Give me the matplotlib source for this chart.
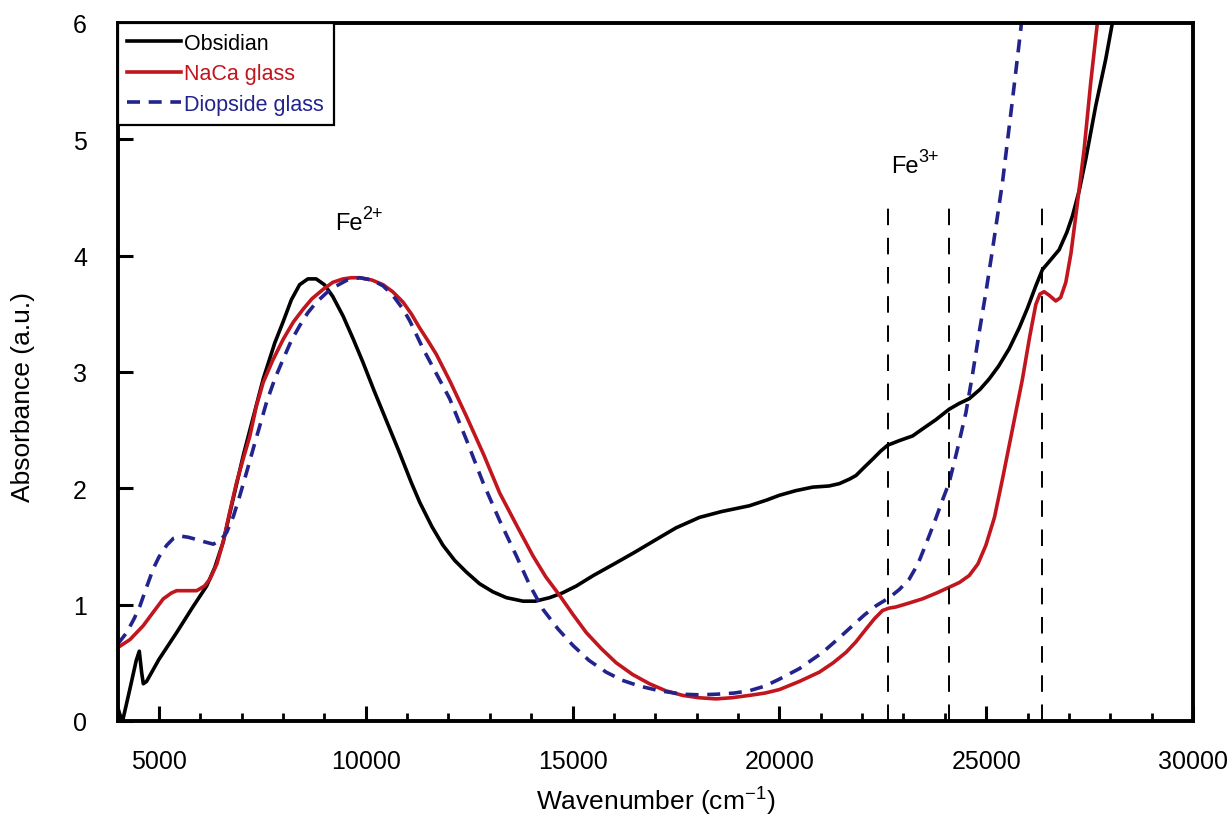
import matplotlib
matplotlib.use("Agg")
import matplotlib.pyplot as plt
from matplotlib.ticker import MultipleLocator

plt.rcParams['font.family'] = ['Liberation Sans', 'DejaVu Sans']
plt.rcParams['mathtext.default'] = 'regular'

# Obsidian spectrum
obs_x = [4000, 4060, 4120, 4300, 4450, 4524, 4580, 4621, 4700, 5000, 5427, 5800, 6152,
         6350, 6553, 6800, 7036, 7300, 7520, 7800, 8000, 8200, 8400, 8600, 8800, 9000,
         9200, 9452, 9700, 9935, 10200, 10500, 10800, 11100, 11304, 11600, 11867, 12150,
         12432, 12750, 13075, 13400, 13800, 14100, 14444, 14750, 15089, 15500, 16055,
         16500, 17022, 17500, 18068, 18600, 19275, 19700, 20000, 20400, 20804, 21200,
         21449, 21700, 21852, 22050, 22254, 22450, 22616, 22900, 23220, 23500, 23785,
         24106, 24350, 24589, 24850, 25072, 25300, 25556, 25800, 26000, 26200, 26360,
         26550, 26763, 26950, 27085, 27250, 27408, 27650, 27891, 28051, 28150]
obs_y = [0.12, 0.05, 0.0, 0.28, 0.52, 0.60, 0.42, 0.32, 0.34, 0.53, 0.76, 0.97, 1.16,
         1.32, 1.54, 1.92, 2.28, 2.64, 2.94, 3.25, 3.43, 3.62, 3.75, 3.80, 3.80, 3.75,
         3.65, 3.48, 3.28, 3.08, 2.84, 2.58, 2.32, 2.05, 1.88, 1.67, 1.51, 1.38,
         1.28, 1.18, 1.11, 1.06, 1.03, 1.03, 1.06, 1.10, 1.16, 1.25, 1.36,
         1.45, 1.56, 1.66, 1.75, 1.80, 1.85, 1.90, 1.94, 1.98, 2.01, 2.02,
         2.04, 2.08, 2.11, 2.18, 2.25, 2.32, 2.37, 2.41, 2.45, 2.52, 2.59,
         2.68, 2.73, 2.77, 2.85, 2.94, 3.05, 3.20, 3.38, 3.55, 3.74, 3.88,
         3.96, 4.05, 4.20, 4.34, 4.56, 4.83, 5.29, 5.69, 6.0, 6.2]

# NaCa glass
naca_x = [4000, 4300, 4621, 4850, 5104, 5300, 5427, 5700, 5910, 6100, 6232, 6400, 6553,
          6700, 6876, 7050, 7198, 7350, 7520, 7750, 8002, 8250, 8486, 8700, 8969, 9200,
          9452, 9650, 9855, 10150, 10418, 10650, 10901, 11100, 11300, 11500, 11708, 12050,
          12432, 12850, 13237, 13650, 14041, 14350, 14686, 15000, 15331, 15700, 16055,
          16450, 16860, 17250, 17665, 18050, 18470, 18850, 19275, 19650, 20000, 20483,
          20966, 21300, 21611, 21850, 22094, 22300, 22495, 22650, 22817, 23100, 23461,
          23800, 24106, 24350, 24589, 24800, 24992, 25200, 25394, 25636, 25877, 26050,
          26200, 26300, 26400, 26520, 26683, 26800, 26925, 27050, 27166, 27367, 27528,
          27688, 27750]
naca_y = [0.63, 0.70, 0.82, 0.93, 1.05, 1.10, 1.12, 1.12, 1.12, 1.16, 1.22, 1.35, 1.54,
          1.78, 2.05, 2.27, 2.45, 2.70, 2.91, 3.10, 3.28, 3.43, 3.54, 3.63, 3.71, 3.77,
          3.80, 3.81, 3.81, 3.79, 3.75, 3.69, 3.60, 3.50, 3.38, 3.27, 3.15, 2.91,
          2.62, 2.29, 1.96, 1.68, 1.42, 1.24, 1.08, 0.92, 0.76, 0.62, 0.50,
          0.40, 0.32, 0.26, 0.22, 0.20, 0.19, 0.20, 0.22, 0.24, 0.27, 0.34,
          0.42, 0.50, 0.59, 0.68, 0.79, 0.88, 0.95, 0.97, 0.98, 1.01, 1.05,
          1.10, 1.15, 1.19, 1.25, 1.35, 1.51, 1.75, 2.08, 2.51, 2.94, 3.30,
          3.58, 3.67, 3.69, 3.66, 3.61, 3.64, 3.77, 4.02, 4.34, 4.91, 5.49,
          6.0, 6.3]

# Diopside glass
diop_x = [4000, 4220, 4400, 4541, 4700, 4863, 5000, 5186, 5350, 5507, 5700, 5910, 6100,
          6312, 6480, 6635, 6800, 6957, 7120, 7278, 7440, 7601, 7800, 8002, 8200, 8406,
          8600, 8809, 9050, 9292, 9550, 9855, 10150, 10418, 10650, 10901, 11063, 11385,
          11700, 12029, 12430, 12834, 13240, 13640, 13960, 14283, 14650, 15007, 15400,
          15812, 16200, 16618, 17100, 17665, 18050, 18470, 18900, 19275, 19650, 20000,
          20483, 21046, 21400, 21771, 22050, 22336, 22657, 22900, 23140, 23350, 23543,
          23750, 23945, 24106, 24300, 24510, 24670, 24831, 25000, 25152, 25394, 25636,
          25838, 25900]
diop_y = [0.66, 0.76, 0.88, 0.99, 1.15, 1.31, 1.41, 1.51, 1.57, 1.59, 1.58, 1.56, 1.54,
          1.52, 1.55, 1.62, 1.76, 1.94, 2.14, 2.34, 2.54, 2.74, 2.94, 3.11, 3.27, 3.40,
          3.51, 3.60, 3.68, 3.74, 3.79, 3.81, 3.79, 3.74, 3.66, 3.54, 3.44, 3.20,
          2.99, 2.77, 2.42, 2.05, 1.72, 1.42, 1.17, 0.96, 0.79, 0.65, 0.52,
          0.42, 0.35, 0.30, 0.26, 0.23, 0.225, 0.23, 0.24, 0.26, 0.30, 0.36,
          0.45, 0.59, 0.70, 0.82, 0.91, 0.99, 1.06, 1.13, 1.22, 1.35, 1.52,
          1.71, 1.90, 2.05, 2.33, 2.65, 2.98, 3.34, 3.70, 4.05, 4.63, 5.34,
          5.95, 6.2]

fe3_lines = [22620, 24110, 26350]
fe3_top = 4.42

red = '#c2161f'
blue = '#23238e'

fig = plt.figure(figsize=(12.29, 8.37), dpi=100)
ax = fig.add_axes([0.0957, 0.1374, 0.875, 0.834])

ax.plot(obs_x, obs_y, color='black', lw=2.6, label='Obsidian', solid_joinstyle='round')
ax.plot(naca_x, naca_y, color=red, lw=2.6, label='NaCa glass', solid_joinstyle='round')
ax.plot(diop_x, diop_y, color=blue, lw=2.6, dashes=(3.6, 2.4), label='Diopside glass')

ax.vlines(fe3_lines, 0, fe3_top, colors='black', lw=1.4, linestyles=(0, (8.5, 6.5)))

# ion labels with superscript charge
for x, y, charge in [(9250, 4.23, '2+'), (22700, 4.72, '3+')]:
    ax.text(x, y, 'Fe', fontsize=17)
    ax.annotate(charge, xy=(x, y), xytext=(20, 8), textcoords='offset points', fontsize=13)

ax.set_xlim(4000, 30000)
ax.set_ylim(0, 6)
ax.xaxis.set_major_locator(MultipleLocator(5000))
ax.xaxis.set_minor_locator(MultipleLocator(1000))
ax.yaxis.set_major_locator(MultipleLocator(1))

ax.tick_params(which='major', direction='in', length=11, width=2.2, labelsize=18, pad=20)
ax.tick_params(which='minor', direction='in', length=6, width=2.0)
ax.tick_params(axis='y', pad=22)
for s in ax.spines.values():
    s.set_linewidth(2.8)

ax.set_xlabel('Wavenumber (cm$^{-1}$)', fontsize=19)
ax.set_ylabel('Absorbance (a.u.)', fontsize=19)
ax.xaxis.set_label_coords(0.5, -0.092)
ax.yaxis.set_label_coords(-0.077, 0.466)

leg = ax.legend(loc='upper left', borderaxespad=0, fancybox=False, fontsize=15.5,
                handlelength=2.5, handletextpad=0.15, borderpad=0.45, labelspacing=0.45,
                labelcolor=['black', red, blue])
leg.get_frame().set_edgecolor('black')
leg.get_frame().set_linewidth(1.6)
leg.get_frame().set_alpha(1)

fig.savefig('out.png', dpi=100)
